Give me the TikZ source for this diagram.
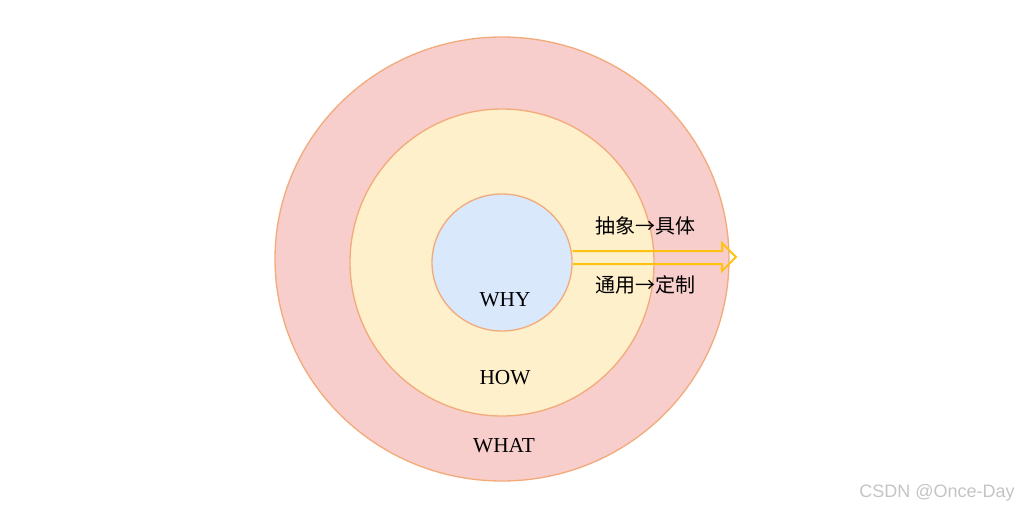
\documentclass[tikz,border=0pt]{standalone}
\usepackage{fontspec}
\usetikzlibrary{shapes.geometric}
\setmainfont{Liberation Serif}
\newfontfamily\cjk{Noto Sans CJK SC}
\newfontfamily\wm{Liberation Sans}
\definecolor{ring}{HTML}{F2AB7B}
\definecolor{outerfill}{HTML}{F8CECC}
\definecolor{midfill}{HTML}{FFF0CC}
\definecolor{innerfill}{HTML}{DAE8FC}
\definecolor{arrowc}{HTML}{FFC20E}
\definecolor{wmgray}{HTML}{C4C4C4}
\begin{document}
\begin{tikzpicture}[x=0.75pt,y=-0.75pt,
  circ/.style={ellipse, draw=ring, line width=1pt, inner sep=0pt},
  lbl/.style={font=\fontsize{16}{19}\selectfont, text=black, inner sep=0pt},
  clbl/.style={font=\cjk\fontsize{15}{18}\selectfont, text=black, inner sep=0pt}]
\useasboundingbox (0,0) rectangle (1019,511);
\node[circ, fill=outerfill, minimum width=454*0.75pt, minimum height=444*0.75pt] (outer) at (502,259) {};
\node[circ, fill=midfill, minimum width=304*0.75pt, minimum height=307*0.75pt] (mid) at (502,262.5) {};
\node[circ, fill=innerfill, minimum width=140*0.75pt, minimum height=137*0.75pt] (inner) at (502,262.5) {};
\node[lbl] (why) at (505,300) {WHY};
\node[lbl] (how) at (505,378) {HOW};
\node[lbl] (what) at (504,446) {WHAT};
\coordinate (tip) at (736,257);
\draw[arrowc, line width=1.5pt, line join=miter]
  (inner.east |- 0,251) -- (722,251) -- (722,243) -- (tip) -- (722,271) -- (722,264) -- (inner.east |- 0,264);
\node[clbl] (t1) at (645,226) {抽象→具体};
\node[clbl] (t2) at (645,285) {通用→定制};
\node[font=\wm\fontsize{13.5}{16}\selectfont, text=wmgray, inner sep=0pt, anchor=east] (wmark) at (1015,493) {CSDN @Once-Day};
\end{tikzpicture}
\end{document}
